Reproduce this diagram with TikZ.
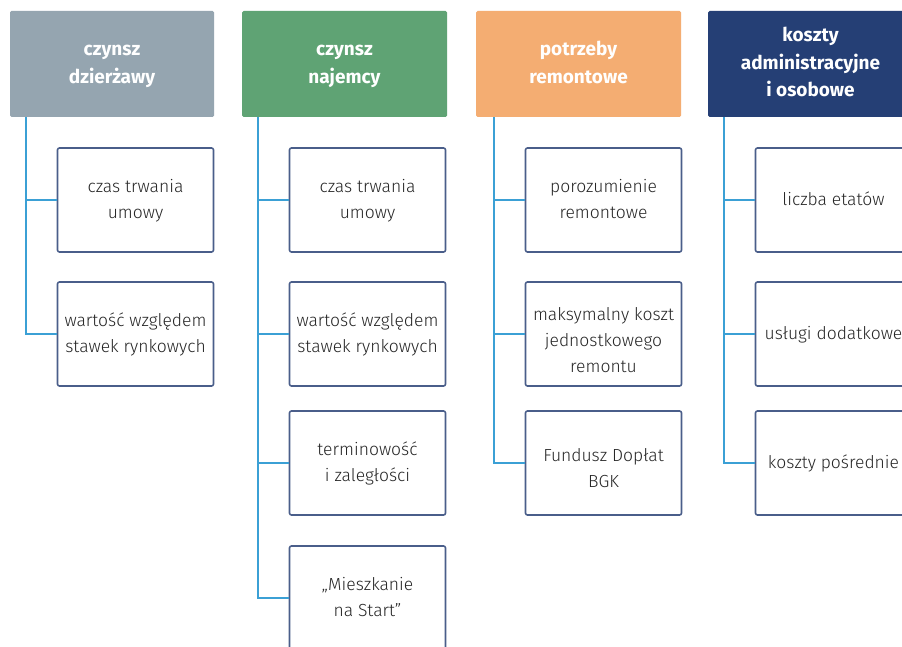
\documentclass[tikz,border=0pt]{standalone}
\usepackage{fontspec}
\setmainfont{Fira Sans}[UprightFont=* Light, BoldFont=* Bold]
\usetikzlibrary{positioning}

% colours of the four groups
\definecolor{greyhead}{HTML}{95A5B0}
\definecolor{greenhead}{HTML}{5FA374}
\definecolor{orangehead}{HTML}{F4AD72}
\definecolor{navyhead}{HTML}{253F75}
\definecolor{itemedge}{HTML}{4A5E8A}
\definecolor{linkblue}{HTML}{3BA0D5}

% centred lines, optional room on top pushes them down
\newcommand{\cellstack}[2][0pt]{%
  \raisebox{0pt}[\dimexpr\height+#1\relax][\depth]{\begin{tabular}{@{}c@{}}#2\end{tabular}}}

\tikzset{
  head/.style={rectangle, rounded corners=1.5pt, minimum width=205pt, minimum height=106pt,
    text=white, font=\fontsize{19}{27.5}\selectfont\bfseries, inner sep=0pt},
  item/.style={rectangle, draw=itemedge, line width=1.6pt, rounded corners=2pt, fill=white,
    minimum width=156pt, minimum height=104pt, font=\fontsize{17.5}{26}\selectfont,
    text=black!85, inner sep=0pt},
  link/.style={draw=linkblue, line width=1.6pt}
}

\begin{document}
\begin{tikzpicture}[x=1pt, y=1pt]

  % page frame
  \clip (0,0) rectangle (902,-647);
  \fill[white] (0,0) rectangle (902,-647);

  % Headers
  \node[head, fill=greyhead, minimum width=204pt] (h1) at (112,-64) {\cellstack{czynsz\\dzierżawy}};
  \node[head, fill=greenhead] (h2) at (344.5,-64) {\cellstack{czynsz\\najemcy}};
  \node[head, fill=orangehead] (h3) at (578.5,-64) {\cellstack{potrzeby\\remontowe}};
  \node[head, fill=navyhead] (h4) at (810.5,-64) {\cellstack{koszty\\administracyjne\\i osobowe}};

  % first column
  \node[item] (c11) at (135.5,-200) {\cellstack{czas trwania\\umowy}};
  \node[item] (c12) at (135.5,-334) {\cellstack{wartość względem\\stawek rynkowych}};

  % second column
  \node[item] (c21) at (367.5,-200) {\cellstack{czas trwania\\umowy}};
  \node[item] (c22) at (367.5,-334) {\cellstack{wartość względem\\stawek rynkowych}};
  \node[item] (c23) at (367.5,-463) {\cellstack{terminowość\\i zaległości}};
  \node[item] (c24) at (367.5,-598) {\cellstack{„Mieszkanie\\na Start''}};

  % third column (text sits a little lower here)
  \node[item] (c31) at (603.5,-200) {\cellstack{porozumienie\\remontowe}};
  \node[item] (c32) at (603.5,-334) {\cellstack[14pt]{maksymalny koszt\\jednostkowego\\remontu}};
  \node[item] (c33) at (603.5,-463) {\cellstack[12pt]{Fundusz Dopłat\\BGK}};

  % fourth column
  \node[item] (c41) at (833.5,-200) {\cellstack{liczba etatów}};
  \node[item] (c42) at (833.5,-334) {\cellstack{usługi dodatkowe}};
  \node[item] (c43) at (833.5,-463) {\cellstack{koszty pośrednie}};

  % trunks below the headers
  \coordinate (t1) at ([xshift=16pt]h1.south west);
  \coordinate (t2) at ([xshift=16pt]h2.south west);
  \coordinate (t3) at ([xshift=18pt]h3.south west);
  \coordinate (t4) at ([xshift=16pt]h4.south west);

  % connectors
  \foreach \k in {1,2} \draw[link] (t1) |- (c1\k.west);
  \foreach \k in {1,...,4} \draw[link] (t2) |- (c2\k.west);
  \foreach \k in {1,2,3} \draw[link] (t3) |- (c3\k.west);
  \foreach \k in {1,2,3} \draw[link] (t4) |- (c4\k.west);

\end{tikzpicture}
\end{document}
